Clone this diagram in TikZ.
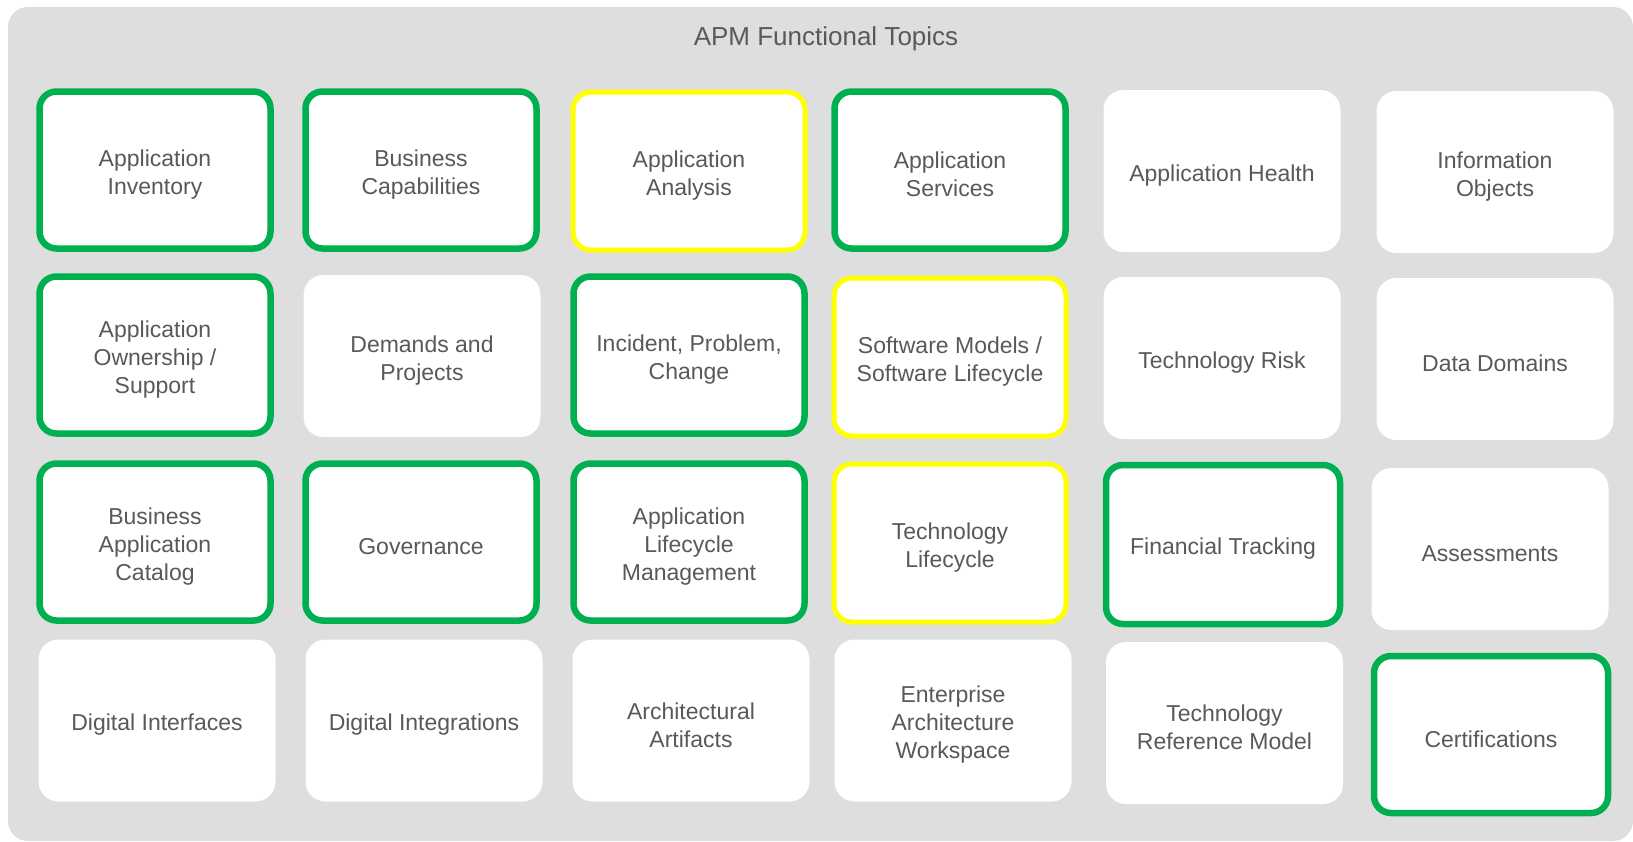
\documentclass[tikz,border=0pt]{standalone}
\usepackage{fontspec}
\setmainfont{Liberation Sans}
\definecolor{panel}{HTML}{DEDEDE}
\definecolor{txt}{HTML}{595959}
\definecolor{apmgreen}{HTML}{00B050}
\definecolor{apmyellow}{HTML}{FFFF00}
\newcommand{\topicfont}{\fontsize{23}{28}\selectfont}
\newcommand{\titlefont}{\fontsize{26}{31}\selectfont}
\tikzset{
  topictext/.style={align=center, font=\topicfont, text=txt, inner sep=0pt, yshift=-4.5pt},
  tile/.style={shape=rectangle, fill=white, inner sep=0pt, label={[topictext]center:{#1}}},
  greenbox/.style={tile={#1}, draw=apmgreen, line width=6.5pt, rounded corners=17pt, minimum width=231pt, minimum height=157pt},
  yellowbox/.style={tile={#1}, draw=apmyellow, line width=5pt, rounded corners=18pt, minimum width=232pt, minimum height=158pt},
  plainbox/.style={tile={#1}, draw=none, rounded corners=20pt, minimum width=237pt, minimum height=162pt},
}
\begin{document}
\begin{tikzpicture}[x=1pt,y=-1pt]
\useasboundingbox (0,0) rectangle (1633,841);
\fill[panel, rounded corners=20pt] (8,7) rectangle (1633,841);
\node[font=\titlefont, text=txt, anchor=base] (title) at (826,45) {APM Functional Topics};
% Row 1
\node[greenbox={Application\\Inventory}]  (inv)  at (155,170)  {};
\node[greenbox={Business\\Capabilities}]  (cap)  at (421,170)  {};
\node[yellowbox={Application\\Analysis}]  (ana)  at (689,171)  {};
\node[greenbox={Application\\Services}]   (svc)  at (950,170)  {};
\node[plainbox={Application Health}]      (hlth) at (1222,171) {};
\node[plainbox={Information\\Objects}]    (info) at (1495,172) {};
% Row 2
\node[greenbox={Application\\Ownership /\\Support}]      (own)  at (155,355)  {};
\node[plainbox={Demands and\\Projects}]                  (dem)  at (422,356)  {};
\node[greenbox={Incident, Problem,\\Change}]             (inc)  at (689,355)  {};
\node[yellowbox={Software Models /\\Software Lifecycle}] (swm)  at (950,357)  {};
\node[plainbox={Technology Risk}]                        (risk) at (1222,358) {};
\node[plainbox={Data Domains}]                           (dd)   at (1495,359) {};
% Row 3
\node[greenbox={Business\\Application\\Catalog}]      (bac)  at (155,542)  {};
\node[greenbox={Governance}]                          (gov)  at (421,542)  {};
\node[greenbox={Application\\Lifecycle\\Management}]  (alm)  at (689,542)  {};
\node[yellowbox={Technology\\Lifecycle}]              (tlc)  at (950,543)  {};
\node[greenbox={Financial Tracking}, minimum width=234pt, minimum height=159pt] (fin) at (1223,544.5) {};
\node[plainbox={Assessments}]                         (asm)  at (1490,549) {};
% Row 4
\node[plainbox={Digital Interfaces}]                     (dif)  at (157,720.5) {};
\node[plainbox={Digital Integrations}]                   (dig)  at (424,720.5) {};
\node[plainbox={Architectural\\Artifacts}]               (art)  at (691,720.5) {};
\node[plainbox={Enterprise\\Architecture\\Workspace}]    (eaw)  at (953,720.5) {};
\node[plainbox={Technology\\Reference Model}]            (trm)  at (1224.5,723) {};
\node[greenbox={Certifications}, minimum width=234pt]    (cert) at (1491,734.5) {};
\end{tikzpicture}
\end{document}
